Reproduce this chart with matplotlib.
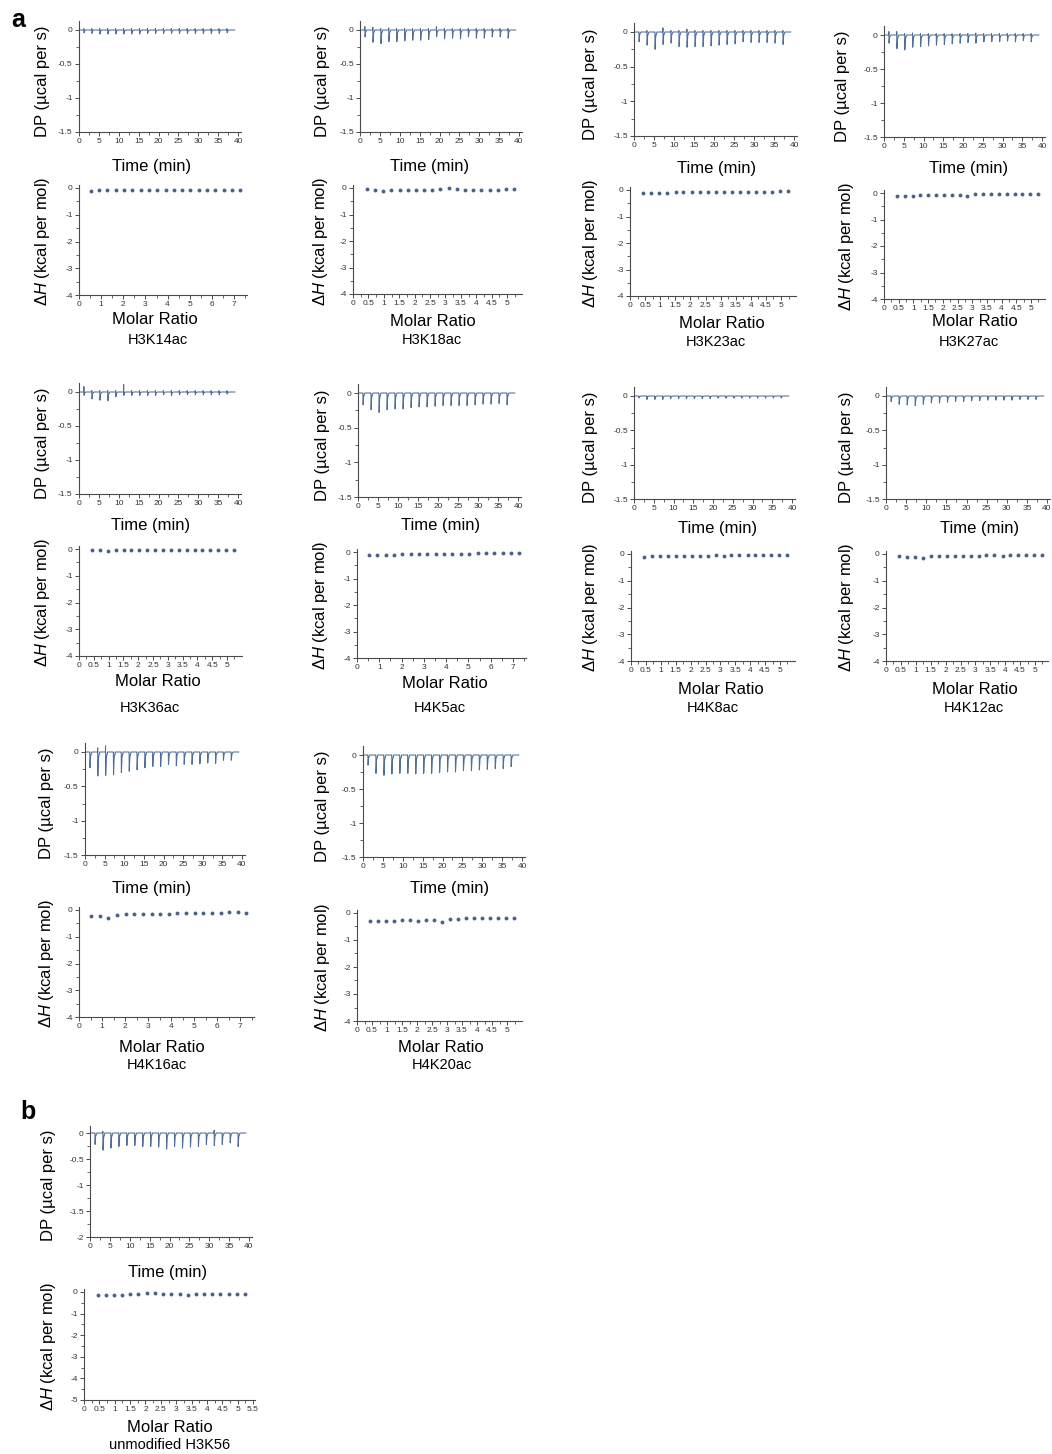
import matplotlib
matplotlib.use("Agg")
import matplotlib.pyplot as plt
from matplotlib.ticker import MultipleLocator, FuncFormatter

plt.rcParams["font.family"] = ["Liberation Sans", "DejaVu Sans"]
plt.rcParams["axes.unicode_minus"] = False
plt.rcParams["mathtext.fontset"] = "custom"
plt.rcParams["mathtext.it"] = "Liberation Sans:italic"
plt.rcParams["mathtext.rm"] = "Liberation Sans"

# ---------------- data ----------------
inj_times = [1.2, 3.2, 5.2, 7.2, 9.2, 11.2, 13.2, 15.2, 17.2, 19.2,
             21.2, 23.2, 25.2, 27.2, 29.2, 31.2, 33.2, 35.2, 37.2]

ratio_7 = [0.53, 0.91, 1.28, 1.66, 2.03, 2.41, 2.78, 3.16, 3.53, 3.91,
           4.28, 4.66, 5.03, 5.41, 5.78, 6.16, 6.53, 6.91, 7.28]
ratio_5 = [0.44, 0.71, 0.97, 1.24, 1.51, 1.77, 2.04, 2.31, 2.57, 2.84,
           3.11, 3.37, 3.64, 3.91, 4.17, 4.44, 4.71, 4.97, 5.24]

names = ["H3K14ac", "H3K18ac", "H3K23ac", "H3K27ac", "H3K36ac", "H4K5ac",
         "H4K8ac", "H4K12ac", "H4K16ac", "H4K20ac", "unmodified H3K56"]

# peak depth of each injection (µcal/s)
H3K14ac_dp = [-0.04, -0.05, -0.06, -0.06, -0.06, -0.06, -0.06, -0.06, -0.05, -0.05,
              -0.05, -0.05, -0.05, -0.05, -0.05, -0.05, -0.05, -0.05, -0.04]
H3K18ac_dp = [-0.10, -0.18, -0.20, -0.17, -0.17, -0.16, -0.15, -0.15, -0.14, -0.10,
              -0.13, -0.12, -0.13, -0.10, -0.12, -0.12, -0.10, -0.10, -0.12]
H3K23ac_dp = [-0.14, -0.19, -0.25, -0.18, -0.16, -0.21, -0.22, -0.21, -0.21, -0.20,
              -0.19, -0.18, -0.17, -0.14, -0.15, -0.15, -0.15, -0.16, -0.18]
H3K27ac_dp = [-0.12, -0.20, -0.22, -0.18, -0.17, -0.16, -0.15, -0.14, -0.13, -0.12,
              -0.11, -0.12, -0.10, -0.10, -0.10, -0.09, -0.10, -0.08, -0.10]
H3K36ac_dp = [-0.05, -0.10, -0.12, -0.13, -0.07, -0.05, -0.05, -0.05, -0.05, -0.05,
              -0.04, -0.05, -0.04, -0.04, -0.04, -0.04, -0.04, -0.04, -0.03]
H4K5ac_dp = [-0.17, -0.24, -0.28, -0.24, -0.23, -0.23, -0.21, -0.20, -0.20, -0.19,
             -0.18, -0.18, -0.18, -0.18, -0.17, -0.16, -0.16, -0.15, -0.17]
H4K8ac_dp = [-0.03, -0.05, -0.05, -0.05, -0.04, -0.04, -0.04, -0.04, -0.04, -0.04,
             -0.03, -0.03, -0.03, -0.03, -0.03, -0.03, -0.03, -0.03, -0.03]
H4K12ac_dp = [-0.08, -0.12, -0.13, -0.14, -0.12, -0.10, -0.10, -0.09, -0.08, -0.08,
              -0.07, -0.07, -0.06, -0.06, -0.06, -0.06, -0.05, -0.05, -0.05]
H4K16ac_dp = [-0.23, -0.35, -0.34, -0.33, -0.30, -0.28, -0.26, -0.23, -0.21, -0.21,
              -0.18, -0.20, -0.18, -0.18, -0.17, -0.16, -0.17, -0.12, -0.12]
H4K20ac_dp = [-0.15, -0.27, -0.30, -0.28, -0.27, -0.27, -0.28, -0.27, -0.27, -0.26,
              -0.25, -0.25, -0.23, -0.23, -0.22, -0.21, -0.20, -0.20, -0.17]
H3K56_dp = [-0.22, -0.33, -0.29, -0.26, -0.24, -0.24, -0.26, -0.26, -0.27, -0.31,
            -0.26, -0.29, -0.27, -0.26, -0.22, -0.24, -0.22, -0.19, -0.26]

# small upward deflections at injection onset (µcal/s)
H3K14ac_up = [0.02, 0.02, 0.02, 0.02, 0.02, 0.02, 0.02, 0.02, 0.02, 0.02,
              0.02, 0.02, 0.02, 0.02, 0.02, 0.02, 0.02, 0.02, 0.02]
H3K18ac_up = [0.05, 0.04, 0.02, 0.03, 0.02, 0.02, 0.02, 0.02, 0.02, 0.05,
              0.02, 0.02, 0.02, 0.02, 0.02, 0.02, 0.02, 0.02, 0.02]
H3K23ac_up = [0.0, 0.02, 0.0, 0.06, 0.02, 0.02, 0.04, 0.02, 0.02, 0.02,
              0.02, 0.02, 0.02, 0.02, 0.02, 0.02, 0.02, 0.02, 0.02]
H3K27ac_up = [0.05, 0.05, 0.02, 0.03, 0.02, 0.02, 0.02, 0.02, 0.02, 0.02,
              0.02, 0.03, 0.02, 0.02, 0.02, 0.02, 0.02, 0.02, 0.02]
H3K36ac_up = [0.08, 0.02, 0.02, 0.02, 0.02, 0.11, 0.02, 0.02, 0.02, 0.02,
              0.02, 0.02, 0.02, 0.02, 0.02, 0.02, 0.02, 0.02, 0.02]
H4K16ac_up = [0.0, 0.06, 0.09, 0.0, 0.0, 0.0, 0.0, 0.0, 0.0, 0.0,
              0.0, 0.0, 0.0, 0.0, 0.0, 0.0, 0.0, 0.0, 0.0]
H3K56_up = [0.0, 0.03, 0.0, 0.0, 0.0, 0.0, 0.0, 0.02, 0.0, 0.0,
            0.0, 0.0, 0.0, 0.0, 0.0, 0.05, 0.0, 0.0, 0.0]

# integrated heat per injection (kcal/mol)
H3K14ac_dh = [-0.10, -0.08, -0.08, -0.08, -0.08, -0.08, -0.08, -0.09, -0.08, -0.08,
              -0.08, -0.08, -0.08, -0.08, -0.08, -0.08, -0.08, -0.08, -0.08]
H3K18ac_dh = [-0.02, -0.06, -0.11, -0.09, -0.09, -0.07, -0.07, -0.07, -0.07, -0.05,
              -0.01, -0.03, -0.06, -0.06, -0.06, -0.06, -0.06, -0.05, -0.05]
H3K23ac_dh = [-0.10, -0.10, -0.10, -0.10, -0.09, -0.09, -0.08, -0.08, -0.08, -0.08,
              -0.07, -0.07, -0.07, -0.07, -0.06, -0.06, -0.06, -0.05, -0.05]
H3K27ac_dh = [-0.12, -0.10, -0.10, -0.09, -0.08, -0.07, -0.07, -0.06, -0.07, -0.10,
              -0.05, -0.05, -0.04, -0.05, -0.05, -0.04, -0.04, -0.03, -0.03]
H3K36ac_dh = [-0.02, -0.05, -0.06, -0.05, -0.05, -0.04, -0.04, -0.04, -0.04, -0.04,
              -0.04, -0.04, -0.04, -0.04, -0.04, -0.04, -0.04, -0.04, -0.03]
H4K5ac_dh = [-0.12, -0.11, -0.10, -0.10, -0.09, -0.09, -0.08, -0.08, -0.07, -0.07,
             -0.06, -0.06, -0.06, -0.05, -0.05, -0.05, -0.05, -0.05, -0.05]
H4K8ac_dh = [-0.10, -0.08, -0.08, -0.08, -0.07, -0.07, -0.06, -0.06, -0.06, -0.05,
             -0.06, -0.05, -0.05, -0.05, -0.04, -0.04, -0.04, -0.04, -0.04]
H4K12ac_dh = [-0.08, -0.10, -0.10, -0.16, -0.08, -0.07, -0.07, -0.06, -0.06, -0.06,
              -0.06, -0.05, -0.05, -0.06, -0.05, -0.04, -0.05, -0.04, -0.04]
H4K16ac_dh = [-0.21, -0.21, -0.29, -0.17, -0.16, -0.16, -0.14, -0.14, -0.15, -0.14,
              -0.12, -0.12, -0.11, -0.10, -0.10, -0.10, -0.09, -0.09, -0.10]
H4K20ac_dh = [-0.29, -0.31, -0.31, -0.30, -0.26, -0.26, -0.29, -0.25, -0.25, -0.34,
              -0.22, -0.21, -0.20, -0.20, -0.20, -0.20, -0.19, -0.19, -0.20]
H3K56_dh = [-0.15, -0.15, -0.14, -0.14, -0.11, -0.11, -0.06, -0.06, -0.11, -0.11,
            -0.11, -0.12, -0.11, -0.11, -0.11, -0.11, -0.11, -0.10, -0.10]

# ---------------- figure ----------------
W, H = 1052, 1454
fig = plt.figure(figsize=(W / 100, H / 100), dpi=100)

TRACE = "#4f6f96"
DOT = "#4a6288"
SPINE = "#4a4a4a"


def px_axes(x0, xref, xref_val, y0, yref, yref_val, xlim, ylim):
    """Axes placed so that data x=0 / y=0 land on given pixel positions."""
    sx = (xref - x0) / xref_val
    sy = (yref - y0) / (-yref_val)
    left = x0 + sx * xlim[0]
    right = x0 + sx * xlim[1]
    top = y0 - sy * ylim[1]
    bottom = y0 - sy * ylim[0]
    ax = fig.add_axes([left / W, 1 - bottom / H, (right - left) / W, (bottom - top) / H])
    ax.set_xlim(*xlim)
    ax.set_ylim(*ylim)
    return ax


fmt = FuncFormatter(lambda v, p: f"{v + 0:g}")


def style(ax, xmaj, ymaj):
    for s in ("top", "right"):
        ax.spines[s].set_visible(False)
    for s in ("left", "bottom"):
        ax.spines[s].set_linewidth(0.8)
        ax.spines[s].set_color(SPINE)
    ax.xaxis.set_major_locator(MultipleLocator(xmaj))
    ax.xaxis.set_minor_locator(MultipleLocator(xmaj / 2))
    ax.yaxis.set_major_locator(MultipleLocator(ymaj))
    ax.yaxis.set_minor_locator(MultipleLocator(ymaj / 2))
    ax.xaxis.set_major_formatter(fmt)
    ax.yaxis.set_major_formatter(fmt)
    ax.tick_params(which="major", length=3, width=0.7, color=SPINE,
                   labelsize=6, labelcolor="#333333", pad=1.5)
    ax.tick_params(which="minor", length=2, width=0.6, color=SPINE)
    ax.patch.set_alpha(0)


def thermogram(ax, depths, ups):
    xs, ys = [0.4], [0.0]
    for t, d, u in zip(inj_times, depths, ups):
        xs += [t, t + 0.03, t + 0.07, t + 0.22, t + 0.55]
        ys += [0.0, u, d, d * 0.25, 0.0]
    xs.append(39.2)
    ys.append(0.0)
    ax.fill_between(xs, ys, 0, color=TRACE, alpha=0.3, lw=0)
    ax.plot(xs, ys, color=TRACE, lw=0.75)


zero_up = [0.0] * len(inj_times)

# name, dp, up, dh, ratio,
# DP layout (x0, x40, y0, ybottom, ybottom value),
# heat layout (x0, xref, xref value, y0, ybottom, ybottom value), heat xmax, heat xstep,
# ylabel x (DP, heat), Time label, Molar Ratio label, name label
panels = [
    ("H3K14ac", H3K14ac_dp, H3K14ac_up, H3K14ac_dh, ratio_7,
     (79, 238, 30, 132, -1.5), (79, 234, 7, 188, 295, -4), 7.6, 1,
     (42, 42), (152, 166), (155, 320), (158, 340)),
    ("H3K18ac", H3K18ac_dp, H3K18ac_up, H3K18ac_dh, ratio_5,
     (360, 519, 30, 132, -1.5), (353, 507, 5, 188, 294, -4), 5.49, 0.5,
     (322, 320), (430, 166), (433, 321), (432, 340)),
    ("H3K23ac", H3K23ac_dp, H3K23ac_up, H3K23ac_dh, ratio_5,
     (634, 794, 32, 136, -1.5), (630, 781, 5, 190, 296, -4), 5.49, 0.5,
     (591, 591), (717, 168), (722, 323), (716, 342)),
    ("H3K27ac", H3K27ac_dp, H3K27ac_up, H3K27ac_dh, ratio_5,
     (884, 1042, 35, 137, -1.5), (884, 1031, 5, 193, 299, -4), 5.49, 0.5,
     (843, 846), (969, 168), (975, 321), (969, 342)),
    ("H3K36ac", H3K36ac_dp, H3K36ac_up, H3K36ac_dh, ratio_5,
     (79, 238, 392, 494, -1.5), (79, 227, 5, 549, 656, -4), 5.49, 0.5,
     (42, 42), (151, 525), (158, 682), (150, 708)),
    ("H4K5ac", H4K5ac_dp, zero_up, H4K5ac_dh, ratio_7,
     (358, 518, 393, 497, -1.5), (357, 513, 7, 552, 658, -4), 7.6, 1,
     (322, 320), (441, 525), (445, 684), (440, 708)),
    ("H4K8ac", H4K8ac_dp, zero_up, H4K8ac_dh, ratio_5,
     (634, 792, 396, 499, -1.5), (631, 780, 5, 554, 661, -4), 5.49, 0.5,
     (591, 591), (718, 529), (721, 689), (713, 708)),
    ("H4K12ac", H4K12ac_dp, zero_up, H4K12ac_dh, ratio_5,
     (886, 1047, 396, 499, -1.5), (886, 1035, 5, 554, 661, -4), 5.45, 0.5,
     (846, 846), (980, 529), (975, 689), (974, 708)),
    ("H4K16ac", H4K16ac_dp, H4K16ac_up, H4K16ac_dh, ratio_7,
     (85, 242, 752, 855, -1.5), (79, 240, 7, 910, 1017, -4), 7.6, 1,
     (47, 47), (152, 888), (162, 1047), (157, 1065)),
    ("H4K20ac", H4K20ac_dp, zero_up, H4K20ac_dh, ratio_5,
     (363, 522, 755, 857, -1.5), (357, 507, 5, 913, 1021, -4), 5.49, 0.5,
     (322, 322), (450, 888), (441, 1047), (442, 1065)),
    ("unmodified H3K56", H3K56_dp, H3K56_up, H3K56_dh, ratio_5,
     (90, 249, 1133, 1237, -2), (84, 253, 5.5, 1292, 1400, -5), 5.55, 0.5,
     (48, 48), (168, 1272), (170, 1427), (170, 1445)),
]

LABEL_FS = 12


def ftext(x, y, s, **kw):
    fig.text(x / W, 1 - y / H, s, ha="center", va="center", **kw)


for (name, dp, up, dh, ratio, dpl, hl, hxmax, hxstep,
     ylx, time_xy, mr_xy, name_xy) in panels:
    # raw thermogram
    x0, x40, y0, yb, ybv = dpl
    ax = px_axes(x0, x40, 40, y0, yb, ybv, (0, 40.8), (ybv, 0.13))
    style(ax, 5, 0.5)
    thermogram(ax, dp, up)
    ftext(ylx[0], (y0 + yb) / 2, "DP (µcal per s)", rotation=90, fontsize=LABEL_FS)
    ftext(*time_xy, "Time (min)", fontsize=LABEL_FS)

    # integrated heats
    hx0, hxr, hxrv, hy0, hyb, hybv = hl
    axh = px_axes(hx0, hxr, hxrv, hy0, hyb, hybv, (0, hxmax), (hybv, 0.12))
    style(axh, hxstep, 1)
    axh.plot(ratio, dh, "o", color=DOT, ms=2.8, mew=0)
    ftext(ylx[1], (hy0 + hyb) / 2, r"$\mathit{\Delta H}$ (kcal per mol)",
          rotation=90, fontsize=LABEL_FS)
    ftext(*mr_xy, "Molar Ratio", fontsize=LABEL_FS)
    ftext(*name_xy, name, fontsize=10.5)

# panel letters
ftext(18, 20, "a", fontsize=18, fontweight="bold")
ftext(28, 1112, "b", fontsize=18, fontweight="bold")

fig.savefig("out.png", dpi=100)
